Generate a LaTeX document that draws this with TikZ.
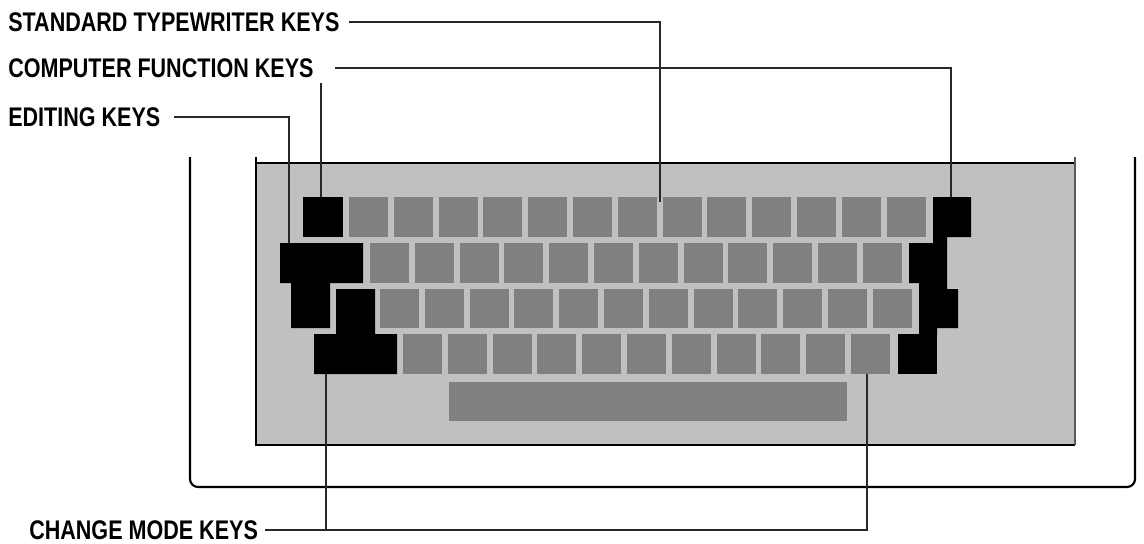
\documentclass[tikz,border=0pt]{standalone}
\usepackage{fontspec}
\usepackage{xcolor}
\usepackage{tikz}
\usetikzlibrary{calc,positioning}
\newfontfamily\keylabelfont{Liberation Sans}[FakeStretch=0.8]
\definecolor{PanelGray}{RGB}{192, 192, 192}
\definecolor{KeyGray}{RGB}{128, 128, 128}
\definecolor{LeaderGray}{RGB}{40, 40, 40}

\begin{document}
\begin{tikzpicture}[x=0.75pt, y=-0.75pt,
    keylabel/.style={anchor=west, inner sep=0pt, font=\keylabelfont\bfseries\fontsize{20.2}{21}\selectfont},
    leader/.style={LeaderGray, line width=1pt}]
    \useasboundingbox (0,0) rectangle (1144,543);
    % case
    \draw[line width=1.6pt, rounded corners=6pt] (190,157) -- (190,487) -- (1135,487) -- (1135,157);
    % key panel
    \fill[PanelGray] (256,163) rectangle (1075,445);
    \draw[line width=1.2pt] (256,157) -- (256,445) -- (1075,445);
    \draw[line width=1.2pt] (256,163) -- (1075,163);
    \draw[line width=1.2pt, gray!70!black] (1075,157) -- (1075,445);
    % typewriter keys
    \foreach \i in {0,...,12} {
        \fill[KeyGray] ({349+44.8*\i},197) rectangle +(39,40);
    }
    \foreach \i in {0,...,11} {
        \fill[KeyGray] ({370+44.8*\i},243) rectangle +(39,40);
        \fill[KeyGray] ({380+44.8*\i},289) rectangle +(39,39);
    }
    \foreach \i in {0,...,10} {
        \fill[KeyGray] ({403+44.8*\i},334) rectangle +(39,40);
    }
    \fill[KeyGray] (449,382) rectangle (847,421);
    % left black keys
    \fill[black] (303,197) rectangle (343,237);
    \fill[black] (280,243) rectangle (363,283) (291,282) rectangle (330,328);
    \fill[black] (336,289) rectangle (375,335) (314,334) rectangle (397,374);
    % right black keys
    \fill[black] (933,197) rectangle (971,237) (933,236) rectangle (947,244);
    \fill[black] (909,243) rectangle (947,283) (919,282) rectangle (947,290);
    \fill[black] (919,289) rectangle (958,328) (919,327) rectangle (937,335);
    \fill[black] (898,334) rectangle (937,374);
    % labels
    \node[keylabel] (std)  at (8,22)   {STANDARD TYPEWRITER KEYS};
    \node[keylabel] (comp) at (8,68)   {COMPUTER FUNCTION KEYS};
    \node[keylabel] (edit) at (8,117)  {EDITING KEYS};
    \node[keylabel] (mode) at (29,530) {CHANGE MODE KEYS};
    % leader ends
    \coordinate (stdkey)   at (660,202);
    \coordinate (fntop)    at (321,83);
    \coordinate (fnkeyL)   at (321,197);
    \coordinate (fnkeyR)   at (951,197);
    \coordinate (editkey)  at (289,243);
    \coordinate (modekeyL) at (326,374);
    \coordinate (modekeyR) at (867,374);
    % leaders
    \draw[leader] ([xshift=7pt]std.east) -| (stdkey);
    \draw[leader] ([xshift=16pt]comp.east) -| (fnkeyR);
    \draw[leader] (fntop) -- (fnkeyL);
    \draw[leader] ([xshift=10pt]edit.east) -| (editkey);
    \draw[leader] ([xshift=5pt]mode.east) -| (modekeyR);
    \draw[leader] (modekeyL) -- (modekeyL |- mode.east);
\end{tikzpicture}
\end{document}
